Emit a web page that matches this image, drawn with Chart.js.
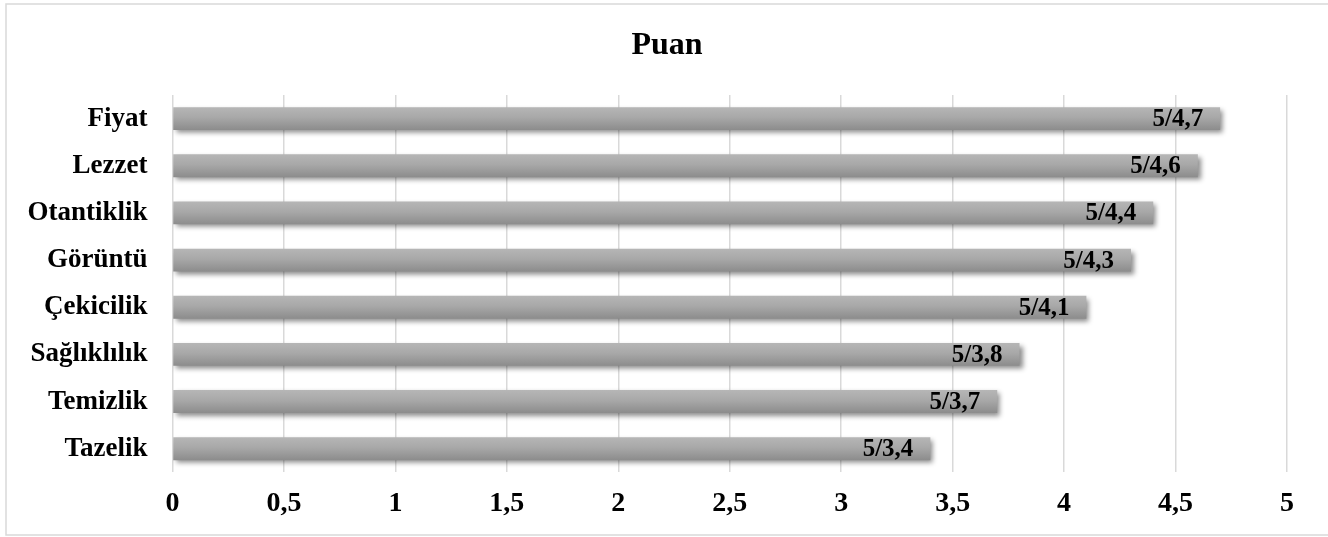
<!DOCTYPE html>
<html>
<head>
<meta charset="utf-8">
<script src="https://cdn.jsdelivr.net/npm/chart.js@4/dist/chart.umd.min.js"></script>
<style>
  html, body { margin: 0; padding: 0; background: #ffffff; }
  #wrap { position: relative; width: 1328px; height: 537px; }
  canvas { display: block; }
</style>
</head>
<body>
<div id="wrap"><canvas id="chart" width="1328" height="537"></canvas></div>
<script>
// Ratings out of 5 per attribute
const categories = ['Fiyat', 'Lezzet', 'Otantiklik', 'Görüntü', 'Çekicilik', 'Sağlıklılık', 'Temizlik', 'Tazelik'];
const scores = [4.7, 4.6, 4.4, 4.3, 4.1, 3.8, 3.7, 3.4];
const maxScore = 5;
const xTicks = [0, 0.5, 1, 1.5, 2, 2.5, 3, 3.5, 4, 4.5, 5];
const titleText = 'Puan';

const serif = '"Liberation Serif", "Times New Roman", serif';
const fmt = v => String(v).replace('.', ',');

// Outer frame and the chart title, centred on the frame
const framePlugin = {
  id: 'frame',
  beforeDraw(chart) {
    const ctx = chart.ctx;
    ctx.save();
    ctx.fillStyle = '#ffffff';
    ctx.fillRect(0, 0, chart.width, chart.height);
    ctx.strokeStyle = '#d9d9d9';
    ctx.lineWidth = 1.5;
    ctx.strokeRect(6, 4, chart.width + 10, 531);
    ctx.font = 'bold 32px ' + serif;
    ctx.fillStyle = '#000000';
    ctx.textAlign = 'center';
    ctx.textBaseline = 'alphabetic';
    ctx.fillText(titleText, 667, 54);
    ctx.restore();
  }
};

// Vertical grey gradient and soft drop shadow on each bar
const barStylePlugin = {
  id: 'barStyle',
  beforeDatasetsDraw(chart) {
    const meta = chart.getDatasetMeta(0);
    const ctx = chart.ctx;
    meta.data.forEach(el => {
      const top = el.y - el.height / 2;
      const bottom = el.y + el.height / 2;
      const g = ctx.createLinearGradient(0, top, 0, bottom);
      g.addColorStop(0, '#b6b6b6');
      g.addColorStop(0.45, '#a8a8a8');
      g.addColorStop(1, '#8c8c8c');
      el.options = Object.assign({}, el.options, { backgroundColor: g });
    });
    ctx.save();
    ctx.shadowColor = 'rgba(0,0,0,0.45)';
    ctx.shadowBlur = 5;
    ctx.shadowOffsetX = 3;
    ctx.shadowOffsetY = 3;
  },
  afterDatasetsDraw(chart) {
    chart.ctx.restore();
    // value labels inside the bar end
    const meta = chart.getDatasetMeta(0);
    const ctx = chart.ctx;
    ctx.save();
    ctx.font = 'bold 25px ' + serif;
    ctx.fillStyle = '#000000';
    ctx.textAlign = 'right';
    ctx.textBaseline = 'middle';
    meta.data.forEach((el, i) => {
      ctx.fillText(maxScore + '/' + fmt(scores[i]), el.x - 17, el.y + 1);
    });
    ctx.restore();
  }
};

new Chart(document.getElementById('chart'), {
  type: 'bar',
  data: {
    labels: categories,
    datasets: [{
      data: scores,
      backgroundColor: '#a6a6a6',
      borderWidth: 0,
      categoryPercentage: 1,
      barPercentage: 0.485
    }]
  },
  options: {
    indexAxis: 'y',
    responsive: false,
    animation: false,
    events: [],
    layout: { padding: { left: 0, right: 41, top: 95, bottom: 0 } },
    plugins: {
      legend: { display: false },
      tooltip: { enabled: false },
      title: { display: false }
    },
    scales: {
      x: {
        min: 0,
        max: 5,
        afterBuildTicks(scale) { scale.ticks = xTicks.map(v => ({ value: v })); },
        afterFit(scale) { scale.height = 537 - 472.3; },
        border: { display: false },
        grid: { color: '#d9d9d9', lineWidth: 1.5, drawTicks: false },
        ticks: {
          padding: 15,
          color: '#000000',
          font: { family: serif, size: 28, weight: 'bold' },
          callback: v => fmt(v),
          maxRotation: 0,
          autoSkip: false
        }
      },
      y: {
        afterFit(scale) { scale.width = 172.5; },
        border: { display: false },
        grid: { display: false, drawTicks: false },
        ticks: {
          padding: 25,
          color: '#000000',
          font: { family: serif, size: 27, weight: 'bold' }
        }
      }
    }
  },
  plugins: [framePlugin, barStylePlugin]
});
</script>
</body>
</html>
